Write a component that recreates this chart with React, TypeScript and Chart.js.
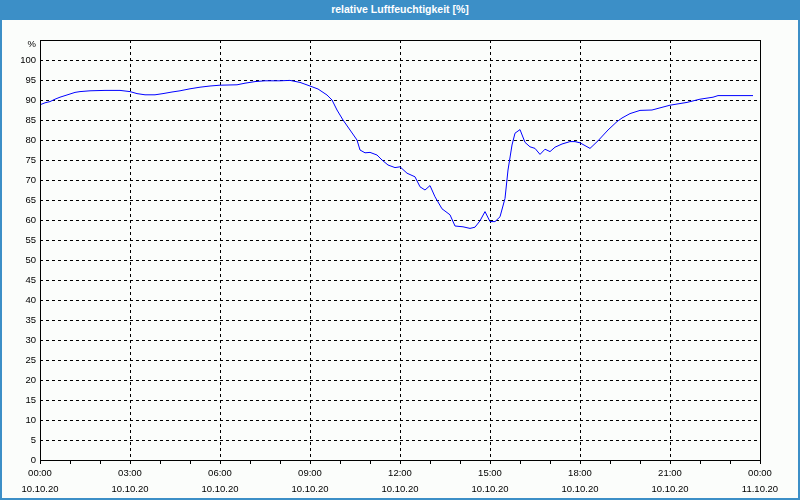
import React, { useEffect, useRef } from 'react';
import { Chart, registerables } from 'chart.js';

Chart.register(...registerables);

// time of day in minutes since 10.10.20 00:00
const minutes = [
  0, 10, 20, 30, 40, 50, 60, 70, 80, 100, 130, 160, 180, 194, 210, 230, 246, 264, 280, 300,
  320, 340, 360, 394, 410, 430, 450, 480, 500, 520, 540, 556, 574, 584, 594, 606, 620, 634, 640, 650,
  660, 674, 684, 696, 710, 720, 734, 750, 760, 770, 780, 790, 804, 820, 830, 846, 860, 870, 880, 890,
  900, 910, 920, 930, 936, 944, 950, 960, 970, 980, 990, 1000, 1010, 1020, 1030, 1044, 1060, 1070, 1080, 1100,
  1116, 1136, 1154, 1164, 1180, 1200, 1224, 1260, 1294, 1320, 1346, 1356, 1390, 1426,
];

// relative humidity [%]
const humidity = [
  88.8, 89.3, 89.6, 90.2, 90.7, 91.1, 91.5, 91.9, 92.1, 92.3, 92.4, 92.4, 92.1, 91.6, 91.3, 91.3, 91.6, 92.0, 92.3, 92.8,
  93.2, 93.5, 93.7, 93.8, 94.2, 94.6, 94.8, 94.8, 94.9, 94.4, 93.5, 92.75, 91.25, 90.0, 87.5, 85.0, 82.5, 80.0, 77.5, 76.8,
  76.9, 76.25, 75.0, 73.75, 73.1, 73.3, 71.7, 70.8, 68.3, 67.5, 68.6, 65.8, 62.8, 61.3, 58.5, 58.3, 57.9, 58.2, 59.8, 62.1,
  59.6, 59.6, 60.8, 65.4, 72.5, 78.75, 81.7, 82.6, 79.4, 78.3, 77.9, 76.4, 77.7, 77.1, 78.2, 79.0, 79.6, 79.6, 79.3, 77.9,
  79.8, 82.5, 84.6, 85.5, 86.6, 87.4, 87.5, 88.7, 89.4, 90.2, 90.7, 91.1, 91.1, 91.1,
];

const timeLabels = ['00:00', '03:00', '06:00', '09:00', '12:00', '15:00', '18:00', '21:00', '00:00'];
const dateLabels = ['10.10.20', '10.10.20', '10.10.20', '10.10.20', '10.10.20', '10.10.20', '10.10.20', '10.10.20', '11.10.20'];

const TITLE = 'relative Luftfeuchtigkeit [%]';
const UNIT = '%';

const FONT = 'Liberation Sans';
const BLUE = '#3c8fc7';

export default function App() {
  const ref = useRef<HTMLCanvasElement | null>(null);

  useEffect(() => {
    if (!ref.current) return;
    const framePlugin = {
      id: 'frame',
      afterDraw(chart: any) {
        const { ctx, chartArea: a } = chart;
        ctx.save();
        ctx.strokeStyle = '#000';
        ctx.lineWidth = 1;
        ctx.setLineDash([]);
        ctx.strokeRect(Math.round(a.left) + 0.5, Math.round(a.top) + 0.5, Math.round(a.right - a.left), Math.round(a.bottom - a.top));
        ctx.fillStyle = '#000';
        ctx.font = `9.5px "${FONT}"`;
        ctx.textAlign = 'right';
        ctx.textBaseline = 'middle';
        ctx.fillText(UNIT, a.left - 4, a.top + 4);
        ctx.restore();
      },
    };

    const chart = new Chart(ref.current, {
      type: 'line',
      data: {
        datasets: [
          {
            data: minutes.map((m, i) => ({ x: m, y: humidity[i] })),
            borderColor: '#0000ff',
            borderWidth: 1,
            pointRadius: 0,
            tension: 0,
            fill: false,
          },
        ],
      },
      options: {
        responsive: false,
        animation: false,
        events: [],
        layout: { padding: { top: 40, right: 40, left: 0, bottom: 0 } },
        plugins: { legend: { display: false }, tooltip: { enabled: false }, title: { display: false } },
        scales: {
          x: {
            type: 'linear',
            min: 0,
            max: 1440,
            afterFit: (s: any) => {
              s.height = 40;
            },
            ticks: {
              stepSize: 60,
              autoSkip: false,
              maxRotation: 0,
              minRotation: 0,
              padding: 1,
              color: '#000',
              font: { family: FONT, size: 9.5, lineHeight: 1.68 },
              callback: (v: any) => {
                const n = Number(v);
                if (n % 180 !== 0) return '';
                const i = n / 180;
                return [timeLabels[i], dateLabels[i]];
              },
            },
            grid: {
              color: (c: any) => {
                const v = c.tick ? c.tick.value : -1;
                return v % 180 === 0 && v !== 0 && v !== 1440 ? '#000' : 'rgba(0,0,0,0)';
              },
              tickColor: '#000',
              tickLength: 4,
              tickBorderDash: [],
              drawTicks: true,
              lineWidth: 1,
            },
            border: { display: false, dash: [3, 3] },
          },
          y: {
            type: 'linear',
            min: 0,
            max: 105,
            afterFit: (s: any) => {
              s.width = 40;
            },
            ticks: {
              stepSize: 5,
              autoSkip: false,
              padding: 4,
              color: '#000',
              font: { family: FONT, size: 9.5 },
              callback: (v: any) => (Number(v) > 100 ? '' : String(v)),
            },
            grid: {
              color: (c: any) => {
                const v = c.tick ? c.tick.value : -1;
                return v > 0 && v <= 100 ? '#000' : 'rgba(0,0,0,0)';
              },
              drawTicks: false,
              lineWidth: 1,
            },
            border: { display: false, dash: [3, 3] },
          },
        },
      },
      plugins: [framePlugin],
    } as any);
    return () => chart.destroy();
  }, []);

  return (
    <div
      style={{
        position: 'fixed',
        left: 0,
        top: 0,
        width: 800,
        height: 500,
        background: '#fbfdfb',
        overflow: 'hidden',
      }}
    >
      <canvas ref={ref} width={800} height={500} style={{ position: 'absolute', left: 0, top: 0, width: 800, height: 500 }} />
      <div
        style={{
          position: 'absolute',
          left: 0,
          top: 0,
          width: 800,
          height: 500,
          boxSizing: 'border-box',
          border: `2px solid ${BLUE}`,
          pointerEvents: 'none',
        }}
      />
      <div
        style={{
          position: 'absolute',
          left: 0,
          top: 0,
          width: 800,
          height: 20,
          background: BLUE,
          color: '#fff',
          fontFamily: FONT,
          fontWeight: 'bold',
          fontSize: 10.5,
          lineHeight: '19px',
          textAlign: 'center',
        }}
      >
        {TITLE}
      </div>
    </div>
  );
}
